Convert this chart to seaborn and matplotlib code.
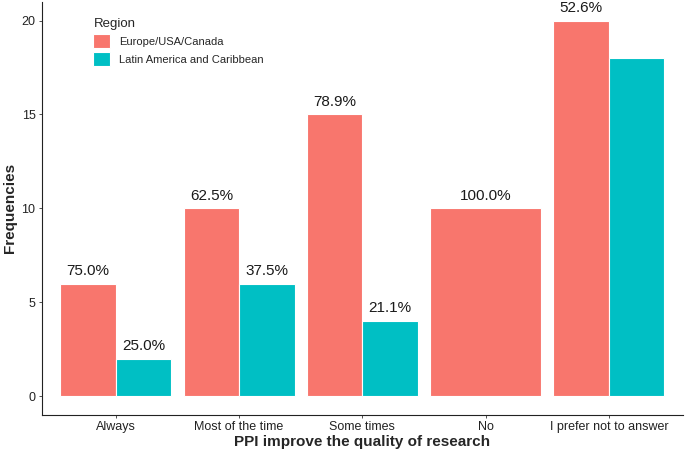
import pandas as pd
import matplotlib.pyplot as plt
import seaborn as sns
import numpy as np

# data
categories = ["Always", "Most of the time", "Some times", "No", "I prefer not to answer"]
regions = ["Europe/USA/Canada", "Latin America and Caribbean"]
europe = [6, 10, 15, 10, 20]
latam = [2, 6, 4, np.nan, 18]
europe_pct = ["75.0%", "62.5%", "78.9%", "100.0%", "52.6%"]
latam_pct = ["25.0%", "37.5%", "21.1%", "", "47.4%"]

df = pd.DataFrame({
    "category": categories * 2,
    "region": [regions[0]] * 5 + [regions[1]] * 5,
    "freq": europe + latam,
})

sns.set_theme(style="ticks")
plt.rcParams['font.family'] = ['Liberation Sans', 'DejaVu Sans']

fig, ax = plt.subplots(figsize=(6.85, 4.54), dpi=100)
palette = {regions[0]: "#F8766D", regions[1]: "#00BFC4"}
sns.barplot(data=df, x="category", y="freq", hue="region", order=categories,
            hue_order=regions, palette=palette, width=0.9, saturation=1,
            edgecolor="white", linewidth=0.8, ax=ax)

# bars per hue group in order; widen the lone "No" bar to full width like ggplot dodge
bars = [p for p in ax.patches if p.get_height() == p.get_height() and p.get_width() > 0]
eu_bars = bars[:5]
la_bars = bars[5:]
no_bar = eu_bars[3]
no_bar.set_width(no_bar.get_width() * 2)

for p, lab in zip(eu_bars + la_bars, europe_pct + latam_pct):
    if lab == "" or np.isnan(p.get_height()):
        continue
    ax.text(p.get_x() + p.get_width() / 2, p.get_height() + 0.3, lab,
            ha="center", va="bottom", fontsize=11, color="#1a1a1a")

ax.set_xlim(-0.6, 4.6)
ax.set_ylim(-1, 21)
ax.set_yticks([0, 5, 10, 15, 20])
ax.set_xlabel("PPI improve the quality of research", fontsize=11, fontweight="bold", labelpad=1)
ax.set_ylabel("Frequencies", fontsize=11, fontweight="bold", labelpad=3)
ax.tick_params(axis="both", labelsize=9, colors="#333333", length=2.5, width=0.6, pad=2)
ax.tick_params(axis="both", labelcolor="#222222")
for s in ["left", "bottom"]:
    ax.spines[s].set_linewidth(0.8)
    ax.spines[s].set_color("#222222")
sns.despine(ax=ax)

leg = ax.legend(title="Region", loc="upper left", bbox_to_anchor=(0.065, 0.985),
                frameon=False, fontsize=8, title_fontsize=9.5, handlelength=1.5,
                handleheight=1.5, handletextpad=0.8, labelspacing=0.4)
leg._legend_box.align = "left"
for h in leg.legend_handles:
    h.set_edgecolor("white")

fig.subplots_adjust(left=0.061, right=0.997, bottom=0.086, top=0.996)
fig.savefig("out.png", dpi=100)
